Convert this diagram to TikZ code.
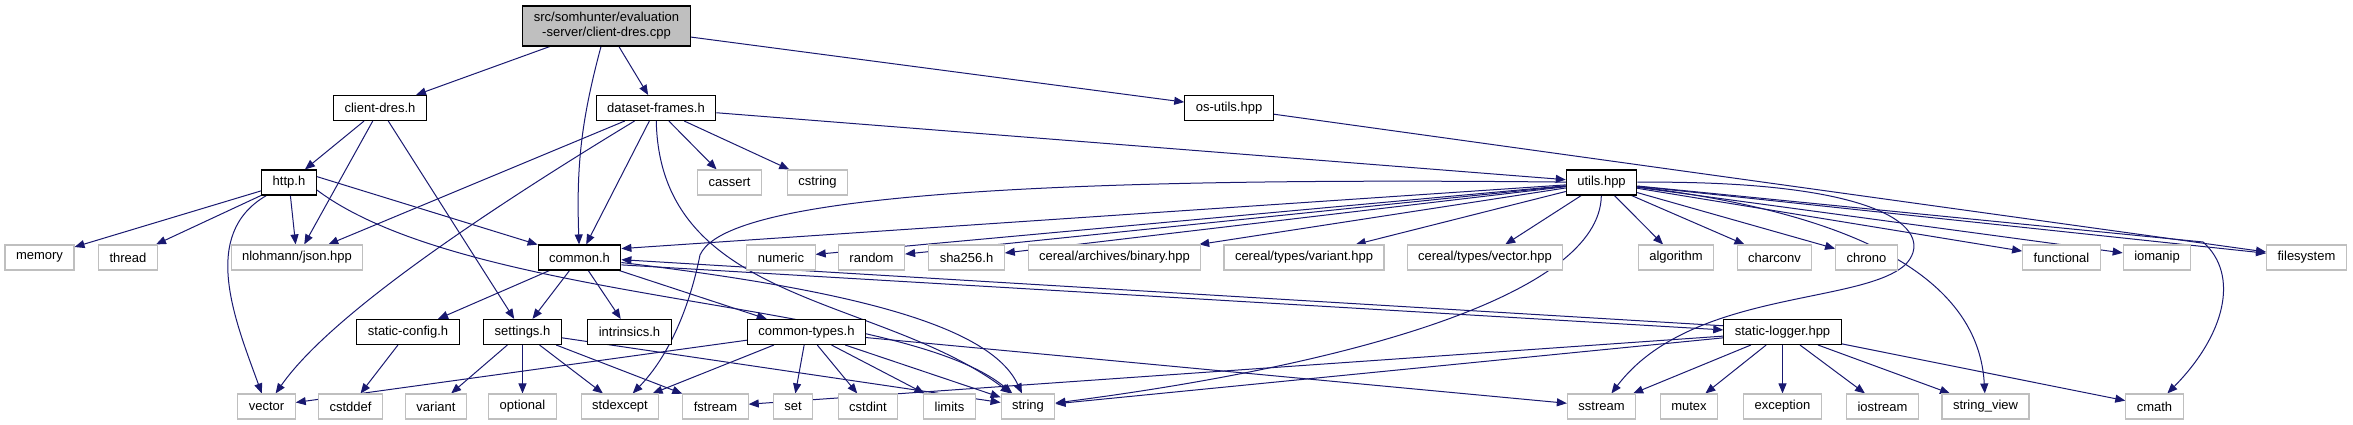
\documentclass[tikz,border=0pt]{standalone}
\usepackage{fontspec}
\setmainfont{Liberation Sans}
\usetikzlibrary{arrows.meta,backgrounds}
\definecolor{edgeblue}{HTML}{191970}
\definecolor{boxgray}{HTML}{BFBFBF}

\begin{document}
\begin{tikzpicture}[
  x=1pt, y=1pt,
  box/.style={draw=#1, line width=1.1pt, fill=white, inner xsep=11pt, inner ysep=0pt, minimum height=25pt, font=\fontsize{13}{15}\selectfont},
  hdr/.style={box=black},
  sys/.style={box=boxgray},
  dep/.style={-{Triangle[length=10pt, width=8pt]}, color=edgeblue, line width=1pt},
]
  \useasboundingbox (0,0) rectangle (2353,425);

  \node[hdr, fill=boxgray, minimum height=40pt, align=center] (root) at (606.5,399) {src/somhunter/evaluation\\-server/client-dres.cpp};

  \node[hdr] (cdres)    at (380,317)    {client-dres.h};
  \node[hdr] (dsframes) at (656,317)    {dataset-frames.h};
  \node[hdr] (osutils)  at (1229,317)   {os-utils.hpp};

  \node[hdr] (http)     at (289,242.5)  {http.h};
  \node[sys] (cassert)  at (729.5,242.5) {cassert};
  \node[sys] (cstring)  at (817.5,242.5) {cstring};
  \node[hdr] (utils)    at (1601.5,242.5) {utils.hpp};

  \node[sys] (memory)     at (39.5,167.5)   {memory};
  \node[sys] (thread)     at (128,167.5)    {thread};
  \node[sys] (json)       at (297,167.5)    {nlohmann/json.hpp};
  \node[hdr] (common)     at (579.5,167.5)  {common.h};
  \node[sys] (numeric)    at (781,167.5)    {numeric};
  \node[sys] (random)     at (871.5,167.5)  {random};
  \node[sys] (sha)        at (966.5,167.5)  {sha256.h};
  \node[sys] (binary)     at (1114.5,167.5) {cereal/archives/binary.hpp};
  \node[sys] (cervariant) at (1304,167.5)   {cereal/types/variant.hpp};
  \node[sys] (cervector)  at (1485,167.5)   {cereal/types/vector.hpp};
  \node[sys] (algorithm)  at (1676,167.5)   {algorithm};
  \node[sys] (charconv)   at (1774.5,167.5) {charconv};
  \node[sys] (chrono)     at (1866.5,167.5) {chrono};
  \node[sys] (functional) at (2061.5,167.5) {functional};
  \node[sys] (iomanip)    at (2157,167.5)   {iomanip};
  \node[sys] (filesystem) at (2306.5,167.5) {filesystem};

  \node[hdr] (staticcfg)  at (408,93)    {static-config.h};
  \node[hdr] (settings)   at (522.5,93)  {settings.h};
  \node[hdr] (intrinsics) at (629.5,93)  {intrinsics.h};
  \node[hdr] (ctypes)     at (806.5,93)  {common-types.h};
  \node[hdr] (logger)     at (1782.5,93) {static-logger.hpp};

  \node[sys] (vector)    at (266.5,18.5)  {vector};
  \node[sys] (cstddef)   at (350.5,18.5)  {cstddef};
  \node[sys] (variant)   at (436,18.5)    {variant};
  \node[sys] (optional)  at (522.5,18.5)  {optional};
  \node[sys] (stdexcept) at (620,18.5)    {stdexcept};
  \node[sys] (fstream)   at (715.5,18.5)  {fstream};
  \node[sys] (set)       at (793,18.5)    {set};
  \node[sys] (cstdint)   at (868,18.5)    {cstdint};
  \node[sys] (limits)    at (949.5,18.5)  {limits};
  \node[sys] (string)    at (1028,18.5)   {string};
  \node[sys] (sstream)   at (1601.5,18.5) {sstream};
  \node[sys] (mutex)     at (1689,18.5)   {mutex};
  \node[sys] (exception) at (1782.5,18.5) {exception};
  \node[sys] (iostream)  at (1882.5,18.5) {iostream};
  \node[sys] (strview)   at (1985.5,18.5) {string\_view};
  \node[sys] (cmath)     at (2154.5,18.5) {cmath};

  \begin{scope}[on background layer]
  \draw[dep] (root) -- (cdres);
  \draw[dep] (root) to[out=-105, in=92] (common);
  \draw[dep] (root) -- (dsframes);
  \draw[dep] (root) -- (osutils);

  \draw[dep] (cdres) -- (http);
  \draw[dep] (cdres) -- (json);
  \draw[dep] (cdres) -- (settings);

  \draw[dep] (dsframes) -- (json);
  \draw[dep] (dsframes) .. controls (430,180) and (320,95) .. (vector);
  \draw[dep] (dsframes) -- (common);
  \draw[dep] (dsframes) -- (cassert);
  \draw[dep] (dsframes) -- (cstring);
  \draw[dep] (dsframes) .. controls (660,120) and (880,130) .. (string);
  \draw[dep] (dsframes) -- (utils);

  \draw[dep] (osutils) -- (filesystem);

  \draw[dep] (http) -- (memory);
  \draw[dep] (http) -- (thread);
  \draw[dep] (http) to[out=-150, in=110] (vector);
  \draw[dep] (http) -- (json);
  \draw[dep] (http.12) -- (common);
  \draw[dep] (http.-15) .. controls (470,120) and (900,125) .. (string);

  \draw[dep] (utils) -- (common.12);
  \draw[dep] (utils) .. controls (900,250) and (720,215) .. (700,170) .. controls (690,120) and (670,70) .. (stdexcept);
  \draw[dep] (utils) -- (numeric);
  \draw[dep] (utils) -- (random);
  \draw[dep] (utils) -- (sha);
  \draw[dep] (utils) -- (binary);
  \draw[dep] (utils) -- (cervariant);
  \draw[dep] (utils) -- (cervector);
  \draw[dep] (utils) .. controls (1600,130) and (1350,60) .. (string);
  \draw[dep] (utils) -- (algorithm);
  \draw[dep] (utils) -- (charconv);
  \draw[dep] (utils) -- (chrono);
  \draw[dep] (utils) .. controls (1900,245) and (1935,190) .. (1905,160) .. controls (1860,120) and (1690,135) .. (sstream);
  \draw[dep] (utils) .. controls (1910,205) and (1980,120) .. (strview);
  \draw[dep] (utils) -- (functional);
  \draw[dep] (utils) -- (iomanip);
  \draw[dep] (utils) -- (2203,183) .. controls (2240,150) and (2225,90) .. (cmath);
  \draw[dep] (utils) -- (filesystem);

  \draw[dep] (common) -- (staticcfg);
  \draw[dep] (common) -- (settings);
  \draw[dep] (common) -- (intrinsics);
  \draw[dep] (common) -- (ctypes);
  \draw[dep] (common) .. controls (850,135) and (990,100) .. (string);
  \draw[dep] (common.-10) -- (logger.178);

  \draw[dep] (staticcfg) -- (cstddef);

  \draw[dep] (settings) -- (variant);
  \draw[dep] (settings) -- (optional);
  \draw[dep] (settings) -- (stdexcept);
  \draw[dep] (settings) -- (fstream);
  \draw[dep] (settings) -- (string);

  \draw[dep] (ctypes) -- (vector);
  \draw[dep] (ctypes) -- (stdexcept);
  \draw[dep] (ctypes) -- (set);
  \draw[dep] (ctypes) -- (cstdint);
  \draw[dep] (ctypes) -- (limits);
  \draw[dep] (ctypes) -- (string);
  \draw[dep] (ctypes) -- (sstream);

  \draw[dep] (logger.174) -- (common.-3);
  \draw[dep] (logger) -- (fstream);
  \draw[dep] (logger) -- (string);
  \draw[dep] (logger) -- (sstream);
  \draw[dep] (logger) -- (mutex);
  \draw[dep] (logger) -- (exception);
  \draw[dep] (logger) -- (iostream);
  \draw[dep] (logger) -- (strview);
  \draw[dep] (logger) -- (cmath);
  \end{scope}
\end{tikzpicture}
\end{document}
